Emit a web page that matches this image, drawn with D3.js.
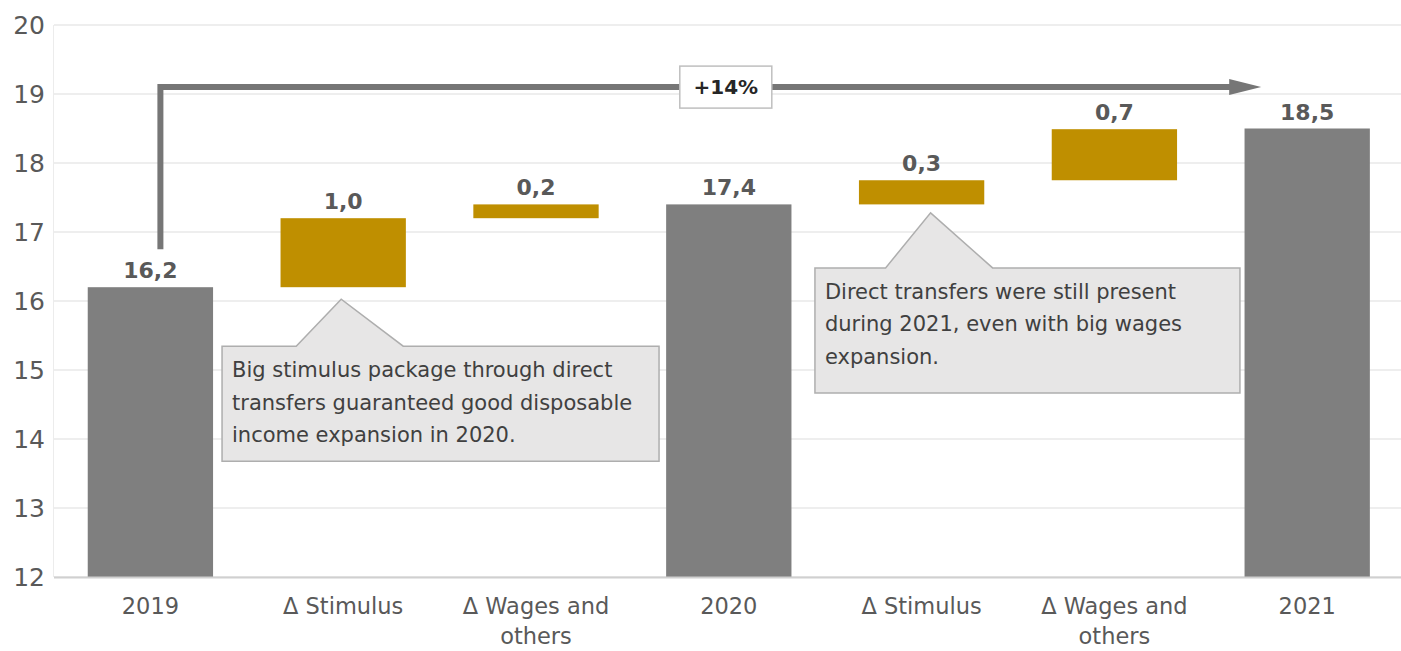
<!DOCTYPE html>
<html>
<head>
<meta charset="utf-8">
<script src="https://cdn.jsdelivr.net/npm/d3@7"></script>
<style>
  body { margin: 0; background: #fff; }
  svg { display: block; font-family: "DejaVu Sans", sans-serif; }
</style>
</head>
<body>
<svg id="chart" width="1401" height="651"></svg>
<script>
// chart data
const categories = ["2019", "Δ Stimulus", "Δ Wages and|others", "2020", "Δ Stimulus", "Δ Wages and|others", "2021"];
const kinds = ["total", "delta", "delta", "total", "delta", "delta", "total"];
const values = [16.2, 1.0, 0.2, 17.4, 0.35, 0.74, 18.5];
const yTicks = [12, 13, 14, 15, 16, 17, 18, 19, 20];
const growthLabel = "+14%";
const notes = [
    {at: 1, lines: ["Big stimulus package through direct", "transfers guaranteed good disposable", "income expansion in 2020."]},
    {at: 4, lines: ["Direct transfers were still present", "during 2021, even with big wages", "expansion."]}
];

const W = 1401, H = 651;
const svg = d3.select('#chart');

const x = d3.scaleBand()
    .domain(d3.range(categories.length))
    .range([54, 54 + 7 * 192.8])
    .paddingInner(0.35)
    .paddingOuter(0.175);

const y = d3.scaleLinear().domain([12, 20]).range([577, 25]);
const fmt = v => d3.format(".1f")(v).replace(".", ",");

// running totals -> bar start / end
let run = 0;
const bars = values.map((v, i) => {
    let b;
    if (kinds[i] === "total") { b = {i, lo: 12, hi: v, v, kind: "total"}; run = v; }
    else { b = {i, lo: run, hi: run + v, v, kind: "delta"}; run += v; }
    return b;
});

// gridlines
svg.append('g').selectAll('line').data(yTicks).join('line')
    .attr('x1', 54).attr('x2', W)
    .attr('y1', d => y(d)).attr('y2', d => y(d))
    .attr('stroke', '#e9e9e9').attr('stroke-width', 1.5);

svg.append('line')
    .attr('x1', 53.5).attr('x2', 53.5)
    .attr('y1', y(20)).attr('y2', y(12))
    .attr('stroke', '#ececec');

svg.append('g').selectAll('text').data(yTicks).join('text')
    .attr('x', 45).attr('y', d => y(d) + 9)
    .attr('text-anchor', 'end')
    .attr('font-size', 25)
    .attr('fill', '#595959')
    .text(d => d);

// bars
svg.append('g').selectAll('rect').data(bars).join('rect')
    .attr('x', d => x(d.i))
    .attr('width', x.bandwidth())
    .attr('y', d => y(d.hi))
    .attr('height', d => y(d.lo) - y(d.hi))
    .attr('fill', d => d.kind === "total" ? '#7f7f7f' : '#bf8f00');

svg.append('line')
    .attr('x1', 54).attr('x2', W)
    .attr('y1', y(12) + 0.5).attr('y2', y(12) + 0.5)
    .attr('stroke', '#d0d0d0').attr('stroke-width', 2);

// value labels
svg.append('g').selectAll('text').data(bars).join('text')
    .attr('x', d => x(d.i) + x.bandwidth() / 2)
    .attr('y', d => y(d.hi) - 9)
    .attr('text-anchor', 'middle')
    .attr('font-size', 22)
    .attr('font-weight', 'bold')
    .attr('fill', '#595959')
    .text(d => fmt(d.v));

// category labels
const xl = svg.append('g').selectAll('text').data(categories).join('text')
    .attr('x', (d, i) => x(i) + x.bandwidth() / 2)
    .attr('y', 614)
    .attr('text-anchor', 'middle')
    .attr('font-size', 22.5)
    .attr('fill', '#595959');
xl.each(function(d) {
    d.split('|').forEach((s, k) => {
        d3.select(this).append('tspan')
            .attr('x', d3.select(this).attr('x'))
            .attr('dy', k === 0 ? 0 : 30)
            .text(s);
    });
});

// growth arrow 2019 -> 2021
const ax = x(0) + x.bandwidth() / 2 + 10;
const ay = y(19.1);
const tipX = x(6) + x.bandwidth() / 2 - 46;
svg.append('path')
    .attr('d', `M${ax},${y(16.75)} V${ay} H${tipX - 30}`)
    .attr('fill', 'none')
    .attr('stroke', '#767676')
    .attr('stroke-width', 6);
svg.append('path')
    .attr('d', `M${tipX - 32},${ay - 8} L${tipX},${ay} L${tipX - 32},${ay + 8} Z`)
    .attr('fill', '#767676');

const gx = x(3) + x.bandwidth() / 2 - 3;
svg.append('rect')
    .attr('x', gx - 46).attr('y', ay - 21)
    .attr('width', 92).attr('height', 42)
    .attr('fill', '#fff')
    .attr('stroke', '#bfbfbf').attr('stroke-width', 1.5);
svg.append('text')
    .attr('x', gx).attr('y', ay + 7)
    .attr('text-anchor', 'middle')
    .attr('font-size', 20)
    .attr('font-weight', 'bold')
    .attr('fill', '#262626')
    .text(growthLabel);

// callouts
const noteGeom = {
    1: {dxApex: -2, dyApex: 12, rise: 47, left: 58.5, w: 437, h: 115},
    4: {dxApex: 9, dyApex: 8.5, rise: 55, left: 44, w: 425, h: 125}
};
notes.forEach(n => {
    const b = bars[n.at];
    const g = noteGeom[n.at];
    const cx = x(n.at) + x.bandwidth() / 2 + g.dxApex;
    const apexY = y(b.lo) + g.dyApex;
    const top = apexY + g.rise;
    const left = x(n.at) - g.left;
    svg.append('path')
        .attr('d', `M${left},${top} H${cx - 45} L${cx},${apexY} L${cx + 62},${top} H${left + g.w} V${top + g.h} H${left} Z`)
        .attr('fill', '#e7e6e6')
        .attr('stroke', '#aeaeae')
        .attr('stroke-width', 1.5);
    svg.append('g').selectAll('text').data(n.lines).join('text')
        .attr('x', left + 10)
        .attr('y', (d, k) => top + 31 + k * 32.5)
        .attr('font-size', 21)
        .attr('fill', '#404040')
        .text(d => d);
});
</script>
</body>
</html>
